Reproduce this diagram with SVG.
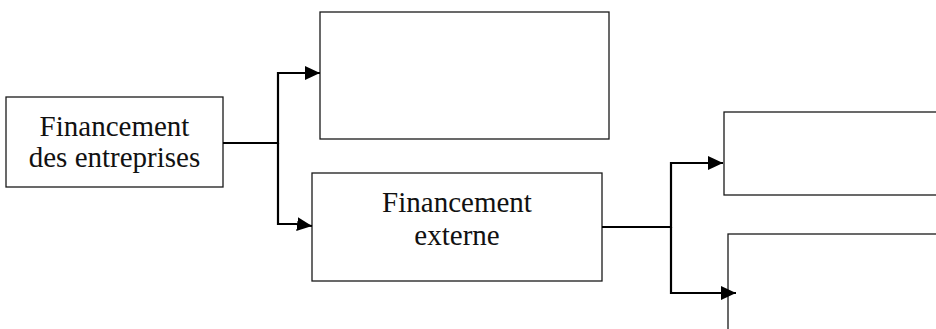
<svg xmlns="http://www.w3.org/2000/svg" width="936" height="329" viewBox="0 0 936 329">
  <style>
    .box { fill: #ffffff; stroke: #1a1a1a; stroke-width: 1.3; }
    .lbl { font-family: "Liberation Serif", "Times New Roman", serif; font-size: 29px; fill: #111111; text-anchor: middle; }
    .link { fill: none; stroke: #000000; stroke-width: 2.2; stroke-linejoin: miter; }
  </style>
  <defs>
    <marker id="arrow" viewBox="0 0 15 14" refX="15" refY="7" markerWidth="15" markerHeight="14" markerUnits="userSpaceOnUse" orient="auto">
      <path d="M0,0 L15,7 L0,14 Z" fill="#000000"/>
    </marker>
  </defs>
  <rect width="936" height="329" fill="#ffffff"/>

  <g id="node-financement-entreprises">
    <rect class="box" x="6" y="97" width="217" height="90"/>
    <text class="lbl" x="114.5" y="136">Financement</text>
    <text class="lbl" x="114.5" y="167">des entreprises</text>
  </g>

  <g id="node-top">
    <rect class="box" x="320" y="12" width="289" height="127"/>
  </g>

  <g id="node-financement-externe">
    <rect class="box" x="312" y="173" width="290" height="108"/>
    <text class="lbl" x="457" y="212">Financement</text>
    <text class="lbl" x="457" y="245">externe</text>
  </g>

  <g id="node-right-top">
    <rect class="box" x="724" y="112" width="240" height="83"/>
  </g>

  <g id="node-right-bottom">
    <rect class="box" x="728" y="234" width="240" height="120"/>
  </g>

  <g id="connectors">
    <path class="link" d="M223,143 H278 V73 H320" marker-end="url(#arrow)"/>
    <path class="link" d="M278,143 V224 H296 L312,226" marker-end="url(#arrow)"/>
    <path class="link" d="M602,227 H671 V163 H723" marker-end="url(#arrow)"/>
    <path class="link" d="M671,227 V293 H736" marker-end="url(#arrow)"/>
  </g>
</svg>
